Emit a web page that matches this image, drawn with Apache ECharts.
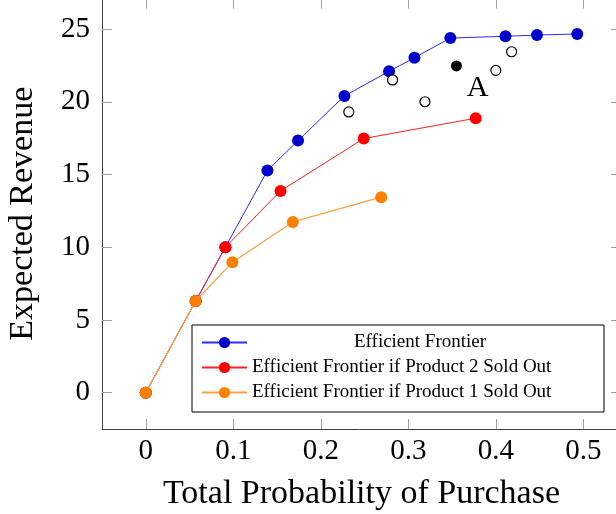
<!DOCTYPE html>
<html>
<head>
<meta charset="utf-8">
<script src="https://cdn.jsdelivr.net/npm/echarts@6/dist/echarts.min.js"></script>
<style>
html,body{margin:0;padding:0;background:#fff;}
#chart{width:616px;height:514px;}
</style>
</head>
<body>
<div id="chart"></div>
<script>
// ---- data ----
const frontierX = [0, 0.057, 0.091, 0.139, 0.174, 0.227, 0.278, 0.307, 0.348, 0.411, 0.447, 0.493];
const frontierY = [0, 6.3, 10.0, 15.27, 17.33, 20.4, 22.09, 23.03, 24.38, 24.5, 24.59, 24.66];
const soldOut2X = [0, 0.057, 0.091, 0.154, 0.249, 0.377];
const soldOut2Y = [0, 6.3, 10.0, 13.87, 17.47, 18.87];
const soldOut1X = [0, 0.057, 0.099, 0.168, 0.269];
const soldOut1Y = [0, 6.3, 8.97, 11.74, 13.44];
const otherX = [0.232, 0.282, 0.319, 0.400, 0.418];
const otherY = [19.3, 21.5, 20.0, 22.16, 23.44];
const pointAX = [0.355];
const pointAY = [22.46];
const pointALabel = 'A';
const xTicks = [0, 0.1, 0.2, 0.3, 0.4, 0.5];
const yTicks = [0, 5, 10, 15, 20, 25];
const seriesNames = ['Efficient Frontier', 'Efficient Frontier if Product 2 Sold Out', 'Efficient Frontier if Product 1 Sold Out'];
const xTitle = 'Total Probability of Purchase';
const yTitle = 'Expected Revenue';

const zip = (xs, ys) => xs.map((x, i) => [x, ys[i]]);

const chart = echarts.init(document.getElementById('chart'), null, {renderer: 'canvas'});
const serif = 'Liberation Serif';
const tickColor = '#a0a0a0';
const axisColor = '#404040';

const xMin = -0.05, xMax = 0.543, yMin = -2.5, yMax = 27.1;

function fmt(v) { return String(Math.round(v * 1000) / 1000); }

const legendTok = {fontFamily: serif, fontSize: 19, lineHeight: 20, color: '#000', width: 336};

const option = {
  animation: false,
  backgroundColor: '#ffffff',
  grid: {left: 102, top: -1.5, width: 519, height: 430.5, containLabel: false, outerBoundsMode: 'none'},
  xAxis: [{
    type: 'value', min: xMin, max: xMax, position: 'bottom',
    axisLine: {show: true, onZero: false, lineStyle: {color: axisColor, width: 1}},
    axisTick: {show: true, inside: true, length: 10, customValues: xTicks, lineStyle: {color: tickColor, width: 1}},
    axisLabel: {show: true, customValues: xTicks, formatter: fmt, margin: 8, color: '#000', fontFamily: serif, fontSize: 29},
    splitLine: {show: false},
    name: xTitle, nameLocation: 'middle', nameGap: 48,
    nameTextStyle: {color: '#000', fontFamily: serif, fontSize: 34}
  }, {
    type: 'value', min: xMin, max: xMax, position: 'top',
    axisLine: {show: true, onZero: false, lineStyle: {color: axisColor, width: 1}},
    axisTick: {show: true, inside: true, length: 10, customValues: xTicks, lineStyle: {color: tickColor, width: 1}},
    axisLabel: {show: false}, splitLine: {show: false}
  }],
  yAxis: [{
    type: 'value', min: yMin, max: yMax, position: 'left',
    axisLine: {show: true, onZero: false, lineStyle: {color: axisColor, width: 1}},
    axisTick: {show: true, inside: true, length: 10, customValues: yTicks, lineStyle: {color: tickColor, width: 1}},
    axisLabel: {show: true, customValues: yTicks, formatter: fmt, margin: 12, color: '#000', fontFamily: serif, fontSize: 29},
    splitLine: {show: false},
    name: yTitle, nameLocation: 'middle', nameGap: 62,
    nameTextStyle: {color: '#000', fontFamily: serif, fontSize: 34}
  }, {
    type: 'value', min: yMin, max: yMax, position: 'right',
    axisLine: {show: true, onZero: false, lineStyle: {color: axisColor, width: 1}},
    axisTick: {show: true, inside: true, length: 10, customValues: yTicks, lineStyle: {color: tickColor, width: 1}},
    axisLabel: {show: false}, splitLine: {show: false}
  }],
  legend: {
    data: seriesNames,
    orient: 'vertical',
    left: 192, top: 325,
    padding: [8, 16, 10, 9],
    itemWidth: 45, itemHeight: 14, itemGap: 6, itemTextGap: 7,
    borderColor: '#000', borderWidth: 1, borderRadius: 0,
    backgroundColor: '#fff',
    formatter: name => (name === seriesNames[0] ? '{c|' : '{l|') + name + '}',
    textStyle: {
      color: '#000', fontFamily: serif, fontSize: 19,
      rich: {
        c: Object.assign({align: 'center'}, legendTok),
        l: Object.assign({align: 'left'}, legendTok)
      }
    }
  },
  series: [{
    name: seriesNames[0], type: 'line', data: zip(frontierX, frontierY),
    symbol: 'circle', symbolSize: 12, showAllSymbol: true,
    itemStyle: {color: '#0000cc'}, lineStyle: {color: '#2a2aff', width: 1}, z: 2
  }, {
    name: seriesNames[1], type: 'line', data: zip(soldOut2X, soldOut2Y),
    symbol: 'circle', symbolSize: 12, showAllSymbol: true,
    itemStyle: {color: '#ff0000'}, lineStyle: {color: '#ff2020', width: 1}, z: 3
  }, {
    name: seriesNames[2], type: 'line', data: zip(soldOut1X, soldOut1Y),
    symbol: 'circle', symbolSize: 12, showAllSymbol: true,
    itemStyle: {color: '#ff7f00'}, lineStyle: {color: '#ffa040', width: 1.2}, z: 4
  }, {
    name: 'other', type: 'scatter', data: zip(otherX, otherY),
    symbol: 'circle', symbolSize: 10,
    itemStyle: {color: '#ffffff', borderColor: '#000', borderWidth: 1.2, opacity: 1}, z: 2
  }, {
    name: 'A', type: 'scatter', data: zip(pointAX, pointAY),
    symbol: 'circle', symbolSize: 11,
    itemStyle: {color: '#000', opacity: 1}, z: 2,
    label: {show: true, formatter: pointALabel, position: 'inside', offset: [21, 22], color: '#000', fontFamily: serif, fontSize: 30}
  }]
};
chart.setOption(option);
</script>
</body>
</html>
